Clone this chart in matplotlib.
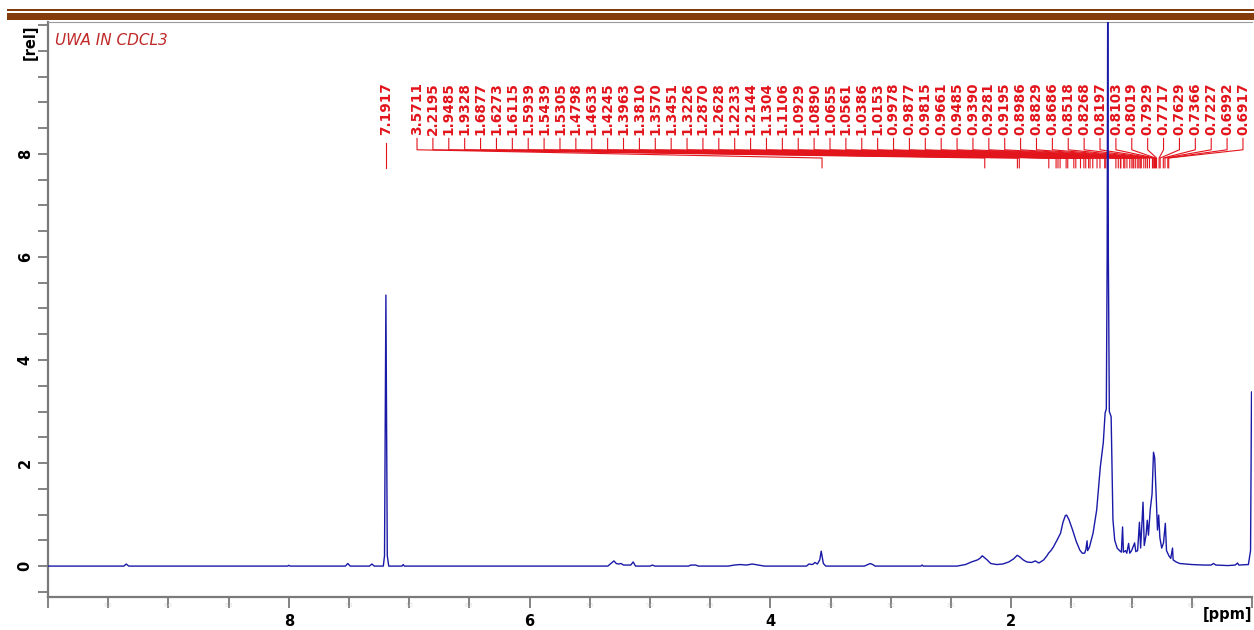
#1H NMR spectrum of UWA in CDCl3, peak picking labels on top
import matplotlib.pyplot as plt
from matplotlib.patches import Rectangle
from matplotlib.ticker import FixedLocator, MultipleLocator
import numpy as np

# spectrum points (ppm, intensity)
spec_ppm = [10.0, 9.37, 9.35, 9.33, 8.01, 8.0, 7.99, 7.53, 7.51, 7.49,
            7.33, 7.31, 7.29, 7.215, 7.205, 7.199, 7.1935, 7.188, 7.182, 7.17,
            7.06, 7.05, 7.04, 5.35, 5.32, 5.30, 5.28, 5.26, 5.24, 5.22,
            5.16, 5.14, 5.12, 5.0, 4.98, 4.96, 4.68, 4.66, 4.62, 4.6,
            4.35, 4.3, 4.25, 4.2, 4.15, 4.1, 4.05, 3.70, 3.68, 3.65,
            3.63, 3.61, 3.59, 3.578, 3.571, 3.56, 3.54, 3.22, 3.2, 3.17,
            3.15, 3.13, 2.75, 2.74, 2.73, 2.45, 2.38, 2.33, 2.28, 2.26,
            2.24, 2.22, 2.2, 2.17, 2.12, 2.07, 2.02, 1.98, 1.95, 1.93,
            1.9, 1.87, 1.83, 1.80, 1.77, 1.73, 1.70, 1.69, 1.67, 1.65,
            1.62, 1.59, 1.57, 1.55, 1.54, 1.52, 1.49, 1.46, 1.43, 1.41,
            1.39, 1.38, 1.37, 1.365, 1.35, 1.32, 1.29, 1.26, 1.235, 1.22,
            1.21, 1.203, 1.198, 1.193, 1.185, 1.17, 1.155, 1.14, 1.12, 1.10,
            1.085, 1.075, 1.068, 1.05, 1.04, 1.025, 1.015, 1.0, 0.975, 0.965,
            0.95, 0.935, 0.925, 0.905, 0.895, 0.88, 0.87, 0.86, 0.845, 0.83,
            0.818, 0.808, 0.795, 0.785, 0.775, 0.765, 0.75, 0.735, 0.72, 0.71,
            0.69, 0.675, 0.66, 0.655, 0.63, 0.6, 0.55, 0.5, 0.4, 0.34,
            0.32, 0.30, 0.2, 0.14, 0.12, 0.11, 0.03, 0.012, 0.004, 0.0]
spec_int = [0, 0, 0.04, 0, 0, 0.015, 0, 0, 0.05, 0,
            0, 0.04, 0, 0, 0.2, 2.87, 5.26, 2.87, 0.2, 0,
            0, 0.03, 0, 0, 0.06, 0.1, 0.05, 0.04, 0.05, 0.02,
            0.02, 0.08, 0, 0, 0.02, 0, 0, 0.02, 0.02, 0,
            0, 0.02, 0.03, 0.02, 0.04, 0.02, 0, 0, 0.04, 0.03,
            0.07, 0.04, 0.12, 0.29, 0.2, 0.05, 0, 0, 0.02, 0.05,
            0.03, 0, 0, 0.02, 0, 0, 0.03, 0.08, 0.12, 0.15,
            0.2, 0.16, 0.12, 0.05, 0.03, 0.04, 0.08, 0.14, 0.21, 0.18,
            0.12, 0.08, 0.07, 0.1, 0.06, 0.12, 0.21, 0.25, 0.3, 0.37,
            0.5, 0.64, 0.85, 0.98, 0.99, 0.9, 0.7, 0.48, 0.31, 0.25,
            0.25, 0.32, 0.49, 0.3, 0.37, 0.64, 1.09, 1.92, 2.4, 2.97,
            3.05, 6.0, 11.5, 6.0, 3.0, 2.9, 0.9, 0.5, 0.35, 0.3,
            0.27, 0.76, 0.27, 0.3, 0.25, 0.44, 0.25, 0.3, 0.45, 0.28,
            0.3, 0.85, 0.35, 1.24, 0.4, 0.6, 0.89, 0.6, 1.1, 1.4,
            2.21, 2.1, 1.3, 0.7, 0.99, 0.55, 0.35, 0.45, 0.83, 0.3,
            0.2, 0.15, 0.35, 0.12, 0.08, 0.05, 0.04, 0.03, 0.02, 0.02,
            0.05, 0.02, 0.01, 0.02, 0.06, 0.02, 0.03, 0.3, 3.38, 3.38]

peak_labels = ["7.1917", "3.5711", "2.2195", "1.9485", "1.9328", "1.6877", "1.6273",
               "1.6115", "1.5939", "1.5439", "1.5305", "1.4798", "1.4633", "1.4245",
               "1.3963", "1.3810", "1.3570", "1.3451", "1.3226", "1.2870", "1.2628",
               "1.2233", "1.2144", "1.1304", "1.1106", "1.0929", "1.0890", "1.0655",
               "1.0561", "1.0386", "1.0153", "0.9978", "0.9877", "0.9815", "0.9661",
               "0.9485", "0.9390", "0.9281", "0.9195", "0.8986", "0.8829", "0.8686",
               "0.8518", "0.8268", "0.8197", "0.8103", "0.8019", "0.7929", "0.7717",
               "0.7629", "0.7366", "0.7227", "0.6992", "0.6917"]

x_major = [2, 4, 6, 8]
y_major = [0, 2, 4, 6, 8]

W, H = 1254, 630
brown = '#843c0c'
red = '#e2141c'
blue = '#1a1aa8'
grey = '#7a7a7a'

fig = plt.figure(figsize=(W / 100, H / 100), dpi=100)

# document header bars
fig.add_artist(Rectangle((7 / W, 1 - 11 / H), 1, 2 / H, transform=fig.transFigure, color=brown, lw=0))
fig.add_artist(Rectangle((7 / W, 1 - 20 / H), 1, 7 / H, transform=fig.transFigure, color=brown, lw=0))

ax = fig.add_axes([48 / W, 1 - 597 / H, 1204 / W, 575 / H])
ax.set_xlim(10, 0)
ax.set_ylim(-0.6, 10.56)

for s in ['left', 'bottom']:
    ax.spines[s].set_color(grey)
    ax.spines[s].set_linewidth(1.6)
ax.spines['top'].set_color('#9a9a9a')
ax.spines['top'].set_linewidth(0.8)
ax.spines['right'].set_visible(False)

ax.xaxis.set_major_locator(FixedLocator(x_major))
ax.xaxis.set_minor_locator(MultipleLocator(0.5))
ax.yaxis.set_major_locator(FixedLocator(y_major))
ax.yaxis.set_minor_locator(MultipleLocator(0.5))
ax.tick_params(which='both', direction='out', color=grey, width=1.3)
ax.tick_params(axis='x', which='both', length=8, pad=4)
ax.tick_params(axis='y', which='both', length=7, pad=4)
ax.set_xticklabels([str(v) for v in x_major], fontweight='bold', fontsize=10.5)
ax.set_yticklabels([str(v) for v in y_major], fontweight='bold', fontsize=10.5,
                   rotation=90, va='center')

# faint labels on the minor x ticks
for v in np.arange(0.5, 10, 0.5):
    if v not in x_major:
        ax.text(v, -0.72, str(v), fontsize=4, color='#dcdcdc', ha='center', va='top')

# spectrum
ax.plot(spec_ppm, spec_int, color=blue, lw=1.0, zorder=4, clip_on=True)

# peak picking labels
label_x = [float(peak_labels[0])] + list(np.linspace(6.935, 0.075, len(peak_labels) - 1))
for lbl, lx in zip(peak_labels, label_x):
    px = float(lbl)
    ax.text(lx, 8.37, lbl, rotation=90, ha='center', va='bottom', color=red,
            fontsize=9.8, fontweight='bold', zorder=2)
    if lx == px:
        ax.plot([px, px], [8.22, 7.73], color=red, lw=0.8, zorder=2)
    else:
        ax.plot([lx, lx, px, px], [8.3, 8.08, 7.92, 7.73], color=red, lw=0.8, zorder=2)

ax.text(0.006, 0.968, 'UWA IN CDCL3', transform=ax.transAxes, fontsize=11,
        style='italic', color='#c02828', ha='left', va='center')

fig.text(30 / W, 1 - 42 / H, '[rel]', rotation=90, fontweight='bold', fontsize=10.5,
         ha='center', va='center')
fig.text(1252 / W, 1 - 614 / H, '[ppm]', fontweight='bold', fontsize=10.5,
         ha='right', va='center')

fig.savefig('out.png', dpi=100)
